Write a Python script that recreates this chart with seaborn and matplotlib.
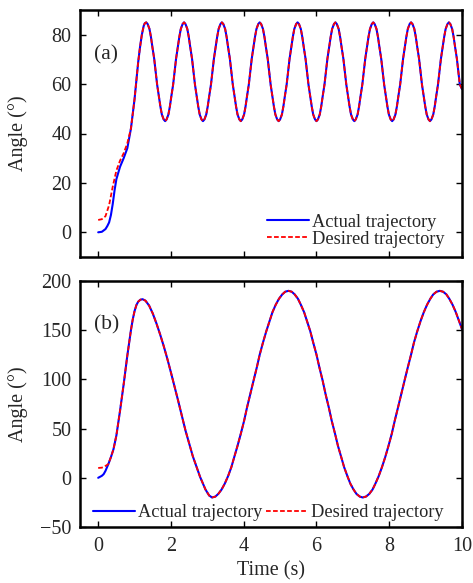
import numpy as np
import pandas as pd
import seaborn as sns
import matplotlib.pyplot as plt

# ---- panel (a) ----
# start-up part, the two curves differ here
t_a_act0 = [0, 0.1, 0.2, 0.25, 0.3, 0.35, 0.4, 0.45, 0.5, 0.6, 0.7, 0.8]
ang_a_act0 = [0, 0.2, 1.3, 2.5, 4, 7, 11.5, 17, 21.5, 26.5, 30, 34]
t_a_des0 = [0, 0.1, 0.2, 0.3, 0.4, 0.5, 0.6, 0.7, 0.8]
ang_a_des0 = [5, 5.3, 6.5, 11, 18.5, 25, 29, 32, 36]

# common part (both curves lie on top of each other)
t_a = [0.9, 1.0, 1.05, 1.1, 1.15, 1.2, 1.25, 1.28,
       1.32, 1.36, 1.41, 1.45, 1.49, 1.54, 1.58, 1.62, 1.67, 1.71, 1.75, 1.80,
       1.84, 1.88, 1.93, 1.97, 2.01, 2.06, 2.10, 2.14, 2.19, 2.23, 2.27, 2.32,
       2.36, 2.40, 2.45, 2.49, 2.53, 2.58, 2.62, 2.66, 2.71, 2.75, 2.79, 2.84,
       2.88, 2.92, 2.97, 3.01, 3.05, 3.10, 3.14, 3.18, 3.23, 3.27, 3.31, 3.36,
       3.40, 3.44, 3.49, 3.53, 3.57, 3.62, 3.66, 3.70, 3.75, 3.79, 3.83, 3.88,
       3.92, 3.96, 4.01, 4.05, 4.09, 4.14, 4.18, 4.22, 4.27, 4.31, 4.35, 4.40,
       4.44, 4.48, 4.53, 4.57, 4.61, 4.66, 4.70, 4.74, 4.79, 4.83, 4.87, 4.92,
       4.96, 5.00, 5.05, 5.09, 5.13, 5.18, 5.22, 5.26, 5.31, 5.35, 5.39, 5.44,
       5.48, 5.52, 5.57, 5.61, 5.65, 5.70, 5.74, 5.78, 5.83, 5.87, 5.91, 5.96,
       6.00, 6.04, 6.09, 6.13, 6.17, 6.22, 6.26, 6.30, 6.35, 6.39, 6.43, 6.48,
       6.52, 6.56, 6.61, 6.65, 6.69, 6.74, 6.78, 6.82, 6.87, 6.91, 6.95, 7.00,
       7.04, 7.08, 7.13, 7.17, 7.21, 7.26, 7.30, 7.34, 7.39, 7.43, 7.47, 7.52,
       7.56, 7.60, 7.65, 7.69, 7.73, 7.78, 7.82, 7.86, 7.91, 7.95, 7.99, 8.04,
       8.08, 8.12, 8.17, 8.21, 8.25, 8.30, 8.34, 8.38, 8.43, 8.47, 8.51, 8.56,
       8.60, 8.64, 8.69, 8.73, 8.77, 8.82, 8.86, 8.90, 8.95, 8.99, 9.03, 9.08,
       9.12, 9.16, 9.21, 9.25, 9.29, 9.34, 9.38, 9.42, 9.47, 9.51, 9.55, 9.60,
       9.64, 9.68, 9.73, 9.77, 9.81, 9.86, 9.90, 9.94, 10.0]
ang_a = [42, 54, 61.5, 69, 75, 80, 83.5, 84.6,
         85, 84.3, 82.3, 79.1, 75, 70.2, 65, 59.8, 55, 50.9, 47.7, 45.7,
         45, 45.7, 47.7, 50.9, 55, 59.8, 65, 70.2, 75, 79.1, 82.3, 84.3,
         85, 84.3, 82.3, 79.1, 75, 70.2, 65, 59.8, 55, 50.9, 47.7, 45.7,
         45, 45.7, 47.7, 50.9, 55, 59.8, 65, 70.2, 75, 79.1, 82.3, 84.3,
         85, 84.3, 82.3, 79.1, 75, 70.2, 65, 59.8, 55, 50.9, 47.7, 45.7,
         45, 45.7, 47.7, 50.9, 55, 59.8, 65, 70.2, 75, 79.1, 82.3, 84.3,
         85, 84.3, 82.3, 79.1, 75, 70.2, 65, 59.8, 55, 50.9, 47.7, 45.7,
         45, 45.7, 47.7, 50.9, 55, 59.8, 65, 70.2, 75, 79.1, 82.3, 84.3,
         85, 84.3, 82.3, 79.1, 75, 70.2, 65, 59.8, 55, 50.9, 47.7, 45.7,
         45, 45.7, 47.7, 50.9, 55, 59.8, 65, 70.2, 75, 79.1, 82.3, 84.3,
         85, 84.3, 82.3, 79.1, 75, 70.2, 65, 59.8, 55, 50.9, 47.7, 45.7,
         45, 45.7, 47.7, 50.9, 55, 59.8, 65, 70.2, 75, 79.1, 82.3, 84.3,
         85, 84.3, 82.3, 79.1, 75, 70.2, 65, 59.8, 55, 50.9, 47.7, 45.7,
         45, 45.7, 47.7, 50.9, 55, 59.8, 65, 70.2, 75, 79.1, 82.3, 84.3,
         85, 84.3, 82.3, 79.1, 75, 70.2, 65, 59.8, 55, 50.9, 47.7, 45.7,
         45, 45.7, 47.7, 50.9, 55, 59.8, 65, 70.2, 75, 79.1, 82.3, 84.3,
         85, 84.3, 82.3, 79.1, 75, 70.2, 65, 59.8, 58]

# ---- panel (b) ----
t_b_act0 = [0, 0.1, 0.15, 0.2, 0.28]
ang_b_act0 = [0, 2, 3.7, 7, 14]
t_b_des0 = [0, 0.1, 0.15, 0.22, 0.28]
ang_b_des0 = [10, 10.3, 11, 12.5, 14]

t_b = [0.35, 0.42, 0.5, 0.6, 0.7, 0.8, 0.9, 0.95, 1.0, 1.05, 1.1, 1.16, 1.22,
       1.3, 1.4, 1.5, 1.6, 1.7, 1.8, 1.9, 2.0, 2.2, 2.4, 2.6, 2.8, 2.95, 3.05,
       3.13, 3.22, 3.30, 3.39, 3.48, 3.57, 3.66, 3.74, 3.83, 3.92, 4.01, 4.09,
       4.18, 4.27, 4.36, 4.44, 4.53, 4.62, 4.71, 4.79, 4.88, 4.97, 5.06, 5.14,
       5.23, 5.32, 5.40, 5.49, 5.57, 5.66, 5.74, 5.83, 5.91, 6.00, 6.08, 6.17,
       6.25, 6.34, 6.42, 6.51, 6.59, 6.68, 6.76, 6.85, 6.93, 7.02, 7.10, 7.19,
       7.27, 7.36, 7.45, 7.54, 7.62, 7.71, 7.80, 7.89, 7.98, 8.07, 8.15, 8.24,
       8.33, 8.42, 8.51, 8.60, 8.68, 8.77, 8.86, 8.95, 9.04, 9.13, 9.21, 9.30,
       9.39, 9.48, 9.57, 9.65, 9.74, 9.83, 9.92, 10.0]
ang_b = [21, 29, 43, 68, 95, 124, 150, 161, 169.5, 175.5, 179, 181, 181.5,
         180, 175, 167, 157, 146, 134, 121, 107, 78, 48, 22, 1, -12, -18,
         -20, -19.1, -16.4, -12.0, -5.9, 1.7, 10.8, 21.1, 32.5, 44.8, 57.8, 71.3,
         85, 98.7, 112.2, 125.2, 137.5, 148.9, 159.2, 168.3, 175.9, 182.0, 186.4, 189.1,
         190, 189.1, 186.4, 182.0, 175.9, 168.3, 159.2, 148.9, 137.5, 125.2, 112.2, 98.7,
         85, 71.3, 57.8, 44.8, 32.5, 21.1, 10.8, 1.7, -5.9, -12.0, -16.4, -19.1,
         -20, -19.1, -16.4, -12.0, -5.9, 1.7, 10.8, 21.1, 32.5, 44.8, 57.8, 71.3,
         85, 98.7, 112.2, 125.2, 137.5, 148.9, 159.2, 168.3, 175.9, 182.0, 186.4, 189.1,
         190, 189.1, 186.4, 182.0, 175.9, 168.3, 159.2, 151]

xticks = [0, 2, 4, 6, 8, 10]
yticks_a = [0, 20, 40, 60, 80]
yticks_b = [-50, 0, 50, 100, 150, 200]


def make_df(t0, a0, t, a):
    return pd.DataFrame({'Time': list(t0) + list(t), 'Angle': list(a0) + list(a)})


sns.set_style('ticks')
plt.rcParams['font.family'] = ['Liberation Serif', 'DejaVu Serif']
plt.rcParams['font.size'] = 14.5
plt.rcParams['text.color'] = '0.15'
plt.rcParams['xtick.color'] = 'black'
plt.rcParams['ytick.color'] = 'black'
plt.rcParams['xtick.labelcolor'] = '0.15'
plt.rcParams['ytick.labelcolor'] = '0.15'
plt.rcParams['axes.labelcolor'] = '0.15'

fig = plt.figure(figsize=(4.73, 5.83), dpi=100)
ax1 = fig.add_axes([80 / 473, 1 - 257 / 583, 382 / 473, 247 / 583])
ax2 = fig.add_axes([80 / 473, 1 - 527 / 583, 382 / 473, 246 / 583])

dash = (0, (2.6, 1.3))
panels = [
    (ax1, make_df(t_a_act0, ang_a_act0, t_a, ang_a), make_df(t_a_des0, ang_a_des0, t_a, ang_a),
     yticks_a, (-10, 90), '(a)', 0.82),
    (ax2, make_df(t_b_act0, ang_b_act0, t_b, ang_b), make_df(t_b_des0, ang_b_des0, t_b, ang_b),
     yticks_b, (-50, 200), '(b)', 0.82),
]

for ax, df_act, df_des, yt, yl, tag, tag_y in panels:
    sns.lineplot(data=df_act, x='Time', y='Angle', color='#0000ff', lw=1.5,
                 estimator=None, sort=False, label='Actual trajectory', ax=ax)
    sns.lineplot(data=df_des, x='Time', y='Angle', color='#ff0000', lw=1.3,
                 linestyle=dash, estimator=None, sort=False,
                 label='Desired trajectory', ax=ax)
    ax.set_xlim(-0.5, 10)
    ax.set_ylim(*yl)
    ax.set_xticks(xticks)
    ax.set_yticks(yt)
    ax.tick_params(direction='in', length=4, width=1, top=True, right=True,
                   labelsize=14.5, pad=6)
    ax.tick_params(axis='x', pad=7)
    for s in ax.spines.values():
        s.set_linewidth(1.8)
        s.set_color('black')
    ax.set_ylabel('Angle (°)', fontsize=14.5)
    ax.yaxis.set_label_coords(-0.135, 0.5)
    ax.text(0.037, tag_y, tag, transform=ax.transAxes, fontsize=15.5,
            va='center', ha='left')

ax1.set_xlabel('')
ax1.tick_params(labelbottom=False)
ax2.set_xlabel('Time (s)', fontsize=14.5, labelpad=4)

ax1.legend(loc='lower right', bbox_to_anchor=(0.955, 0.038), frameon=False,
           fontsize=13.2, handlelength=2.3, handletextpad=0.15,
           labelspacing=0.0, borderpad=0, borderaxespad=0)
ax2.legend(loc='center left', bbox_to_anchor=(0.033, 0.058), frameon=False, ncol=2,
           fontsize=13.2, handlelength=2.3, handletextpad=0.2,
           columnspacing=0.15, borderpad=0, borderaxespad=0)

fig.savefig('out.png', dpi=100)
